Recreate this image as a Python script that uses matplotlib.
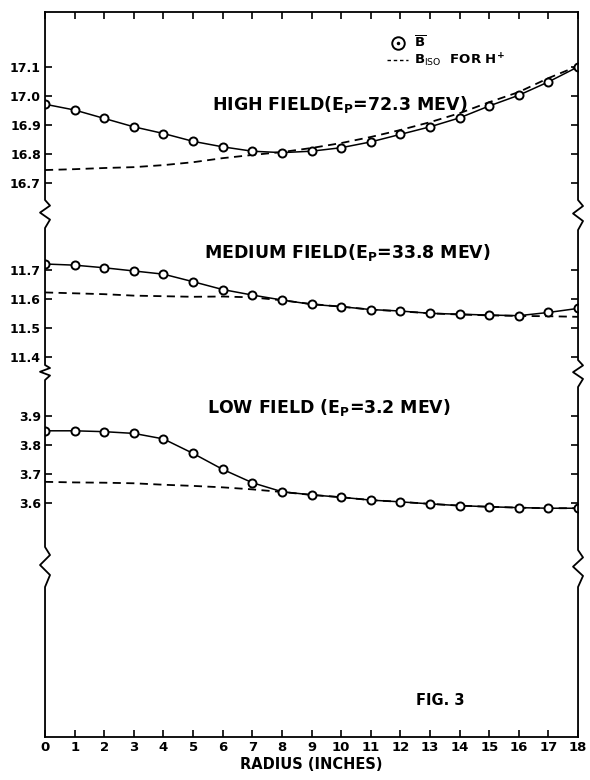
import numpy as np
import matplotlib
matplotlib.use("Agg")
import matplotlib.pyplot as plt
from matplotlib.lines import Line2D
from matplotlib.legend_handler import HandlerTuple

plt.rcParams['font.family'] = ['DejaVu Sans']
plt.rcParams['mathtext.default'] = 'bf'

# ---------------- data ----------------
radius = list(range(0, 19))

high_B = [16.972, 16.952, 16.923, 16.894, 16.871, 16.844, 16.825, 16.810, 16.805,
          16.810, 16.822, 16.842, 16.868, 16.894, 16.925, 16.966, 17.003, 17.049, 17.101]
high_iso = [16.745, 16.748, 16.752, 16.755, 16.762, 16.772, 16.786, 16.797, 16.807,
            16.821, 16.838, 16.859, 16.883, 16.910, 16.941, 16.979, 17.014, 17.062, 17.104]

med_B = [11.721, 11.717, 11.708, 11.697, 11.686, 11.660, 11.633, 11.614, 11.597,
         11.582, 11.574, 11.564, 11.559, 11.551, 11.548, 11.545, 11.543, 11.554, 11.568]
med_iso = [11.623, 11.620, 11.617, 11.612, 11.610, 11.608, 11.609, 11.606, 11.596,
           11.583, 11.574, 11.564, 11.558, 11.551, 11.547, 11.544, 11.542, 11.541, 11.539]

low_B = [3.849, 3.849, 3.846, 3.840, 3.821, 3.771, 3.716, 3.670, 3.639,
         3.628, 3.620, 3.610, 3.604, 3.597, 3.591, 3.587, 3.584, 3.582, 3.582]
low_iso = [3.673, 3.671, 3.670, 3.668, 3.663, 3.659, 3.654, 3.647, 3.638,
           3.628, 3.620, 3.610, 3.604, 3.597, 3.591, 3.587, 3.584, 3.582, 3.582]

y_ticks = [17.1, 17.0, 16.9, 16.8, 16.7, 11.7, 11.6, 11.5, 11.4, 3.9, 3.8, 3.7, 3.6]
y_ticklabels = ["17.1", "17.0", "16.9", "16.8", "16.7", "11.7", "11.6", "11.5", "11.4",
                "3.9", "3.8", "3.7", "3.6"]
x_ticks = list(range(0, 19))

curve_titles = ["HIGH FIELD(E$_P$=72.3 MEV)", "MEDIUM FIELD(E$_P$=33.8 MEV)",
                "LOW FIELD (E$_P$=3.2 MEV)"]

# ---------------- broken-axis scale ----------------
BRK_V = np.array([2.5, 4.024, 11.328, 11.862, 16.569, 17.5])
BRK_U = np.array([-822.0, -380.0, -378.0, -223.0, -221.0, 49.0])

def fwd(v):
    return np.interp(v, BRK_V, BRK_U)

def inv(u):
    return np.interp(u, BRK_U, BRK_V)

fig = plt.figure(figsize=(5.9, 7.8), dpi=100)
ax = fig.add_axes([0.0763, 0.0551, 0.9034, 0.9295])
ax.set_yscale('function', functions=(fwd, inv))
ax.set_xlim(0, 18)
ax.set_ylim(2.793, 17.290)

for yB, yI in [(high_B, high_iso), (med_B, med_iso), (low_B, low_iso)]:
    ax.plot(radius, yI, color='black', lw=1.3, ls=(0, (4.5, 3)), zorder=2)
    ax.plot(radius, yB, color='black', lw=1.1, marker='o', ms=5.8, mfc='white',
            mec='black', mew=1.4, zorder=3)

# titles of curves
title_pos = [(9.95, 16.97), (10.2, 11.76), (9.6, 3.93)]
for (tx, ty), t in zip(title_pos, curve_titles):
    ax.text(tx, ty, t, ha='center', va='center', fontsize=12.5, fontweight='bold')

ax.text(13.35, 2.92, "FIG. 3", ha='center', va='center', fontsize=10.5, fontweight='bold')

# ticks
ax.set_yticks(y_ticks)
ax.set_yticklabels(y_ticklabels, fontsize=9, fontweight='bold')
ax.yaxis.set_minor_locator(matplotlib.ticker.NullLocator())
ax.set_xticks(x_ticks)
ax.set_xticklabels([str(v) for v in x_ticks], fontsize=9.5, fontweight='bold')
ax.tick_params(axis='both', direction='in', length=5, width=1.2,
               top=True, right=True, pad=3)
ax.set_xlabel("RADIUS (INCHES)", fontsize=10.5, fontweight='bold', labelpad=2)

# spines with break zig-zags
for s in ['left', 'right']:
    ax.spines[s].set_visible(False)
ax.spines['top'].set_linewidth(1.3)
ax.spines['bottom'].set_linewidth(1.3)

H = 725.0
W = 533.0
def frac(p):
    return (737.0 - p) / H

def spine_with_breaks(x0, breaks):
    d = 5.0 / W
    pts = [(x0, 0.0)]
    for lo_p, hi_p in sorted(breaks, key=lambda b: -b[1]):
        lo = frac(hi_p)
        hi = frac(lo_p)
        h = hi - lo
        pts += [(x0, lo), (x0 + d, lo + 0.3 * h), (x0 - d, lo + 0.55 * h),
                (x0 + d, lo + 0.8 * h), (x0, hi)]
    pts.append((x0, 1.0))
    xs, ys = zip(*pts)
    ax.plot(xs, ys, color='black', lw=1.3, transform=ax.transAxes, clip_on=False, zorder=4)

spine_with_breaks(0.0, [(200, 228), (365, 380), (547, 587)])
spine_with_breaks(1.0, [(200, 230), (360, 387), (550, 587)])

# legend
h1 = (Line2D([], [], ls='none', marker='o', ms=9, mfc='white', mec='black', mew=1.4),
      Line2D([], [], ls='none', marker='.', ms=3, color='black'))
h2 = Line2D([], [], color='black', lw=1.0, ls=(0, (2.5, 2)))
ax.legend([h1, h2], [r"$\overline{B}$", r"B$_{\rm ISO}$  FOR H$^{+}$"],
          handler_map={tuple: HandlerTuple(ndivide=1)},
          loc='upper left', bbox_to_anchor=(0.62, 0.985), frameon=False,
          handlelength=1.6, handletextpad=0.4, labelspacing=0.1,
          prop={'weight': 'bold', 'size': 9.5})

fig.savefig("out.png", dpi=100)
